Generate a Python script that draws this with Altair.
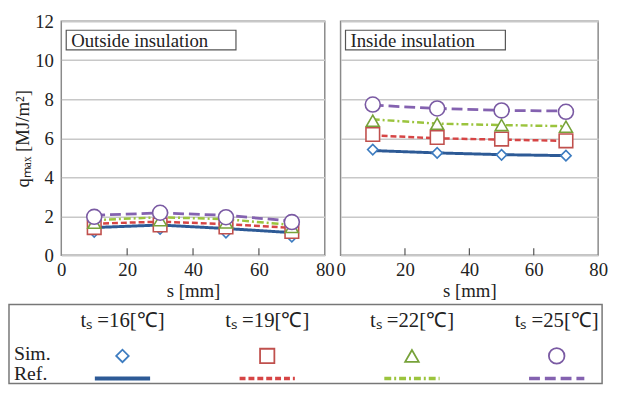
import altair as alt
import pandas as pd

# ---------------- data ----------------
series = ["16", "19", "22", "25"]
series_labels = ["tₛ =16[℃]", "tₛ =19[℃]", "tₛ =22[℃]", "tₛ =25[℃]"]
s_mm = [10, 30, 50, 70]

# Outside insulation
out_sim_16 = [1.20, 1.35, 1.16, 0.95]
out_sim_19 = [1.42, 1.55, 1.45, 1.22]
out_sim_22 = [1.67, 1.80, 1.68, 1.45]
out_sim_25 = [1.97, 2.18, 1.95, 1.70]
out_ref_16 = [1.42, 1.55, 1.37, 1.16]
out_ref_19 = [1.62, 1.72, 1.60, 1.40]
out_ref_22 = [1.80, 1.95, 1.85, 1.55]
out_ref_25 = [2.05, 2.17, 2.05, 1.75]

# Inside insulation
in_sim_16 = [5.42, 5.25, 5.15, 5.11]
in_sim_19 = [6.20, 6.04, 5.96, 5.87]
in_sim_22 = [6.90, 6.75, 6.68, 6.60]
in_sim_25 = [7.73, 7.53, 7.43, 7.36]
in_ref_16 = [5.37, 5.25, 5.16, 5.11]
in_ref_19 = [6.15, 6.00, 5.93, 5.87]
in_ref_22 = [6.97, 6.75, 6.68, 6.62]
in_ref_25 = [7.70, 7.53, 7.43, 7.40]

x_ticks = [0, 20, 40, 60, 80]
y_ticks = [0, 2, 4, 6, 8, 10, 12]

# ---------------- styles ----------------
FONT = "Liberation Serif"
FS = 19
line_colors = ["#2d5a96", "#d64545", "#9bc43d", "#8462b0"]
marker_colors = ["#3d7cc0", "#c0504d", "#77a23a", "#7a5aa3"]
shapes = ["diamond", "square", "triangle-up", "circle"]
marker_sizes = [110, 190, 170, 230]
legend_sizes = [160, 210, 190, 250]
dashes = [[1, 0], [6, 3], [7, 3, 2, 3], [11, 5]]
line_widths = [3, 2.5, 2.5, 2.8]

W1, W2, H = 267, 261, 237


def long_df(values_list):
    rows = []
    for s, vals in zip(series, values_list):
        for x, v in zip(s_mm, vals):
            rows.append({"series": s, "s": x, "q": v})
    return pd.DataFrame(rows)


def panel(sim_vals, ref_vals, title, first, width, box_w):
    sim = long_df(sim_vals)
    ref = long_df(ref_vals)
    xs = alt.Scale(domain=[0, 80], nice=False)
    ys = alt.Scale(domain=[0, 12], nice=False)
    x_axis = alt.Axis(values=x_ticks, title="s [mm]", grid=False, ticks=False,
                      domain=False, labelFlush=False, labelOverlap=False,
                      labelPadding=6, titlePadding=2, labelFont=FONT,
                      labelFontSize=FS, titleFont=FONT, titleFontSize=FS,
                      titleFontWeight="normal", labelColor="#222",
                      titleColor="#222")
    if first:
        y_axis = alt.Axis(values=y_ticks, title="qₘₐₓ [MJ/m²]", grid=True,
                          gridColor="#c8c8c8", gridWidth=1.5, ticks=False,
                          domain=False, labelPadding=8, titlePadding=2,
                          labelOverlap=False, labelFont=FONT,
                          labelFontSize=FS, titleFont=FONT,
                          titleFontSize=FS, titleFontWeight="normal",
                          labelColor="#222", titleColor="#222")
    else:
        y_axis = alt.Axis(values=y_ticks, title=None, grid=True,
                          gridColor="#c8c8c8", gridWidth=1.5, ticks=False,
                          domain=False, labels=False)

    X = alt.X("s:Q", scale=xs, axis=x_axis)
    Y = alt.Y("q:Q", scale=ys, axis=y_axis)

    grid_base = alt.Chart(pd.DataFrame({"s": x_ticks[1:-1]})).mark_rule(
        color="#555", strokeWidth=1.2
    ).encode(
        x=X,
        y=alt.datum(0, scale=ys, axis=y_axis, type="quantitative"),
        y2=alt.value(H - 7),
    )

    layers = [grid_base]
    for i, s in enumerate(series):
        layers.append(
            alt.Chart(ref[ref.series == s]).mark_line(
                color=line_colors[i], strokeDash=dashes[i],
                strokeWidth=line_widths[i]
            ).encode(x=X, y=Y)
        )
    for i, s in enumerate(series):
        layers.append(
            alt.Chart(sim[sim.series == s]).mark_point(
                shape=shapes[i], size=marker_sizes[i], filled=True,
                fill="white", stroke=marker_colors[i], strokeWidth=1.6,
                opacity=1
            ).encode(x=X, y=Y)
        )
    dummy = alt.Chart(pd.DataFrame({"t": [title]}))
    layers.append(
        dummy.mark_rect(fill="white", stroke="#555", strokeWidth=1.2).encode(
            x=alt.value(5), x2=alt.value(5 + box_w),
            y=alt.value(9), y2=alt.value(29))
    )
    layers.append(
        dummy.mark_text(font=FONT, fontSize=FS, align="left",
                        baseline="middle", color="#222").encode(
            x=alt.value(10), y=alt.value(20), text="t:N")
    )
    return alt.layer(*layers).properties(width=width, height=H)


left = panel([out_sim_16, out_sim_19, out_sim_22, out_sim_25],
             [out_ref_16, out_ref_19, out_ref_22, out_ref_25],
             "Outside insulation", True, W1, 172)
right = panel([in_sim_16, in_sim_19, in_sim_22, in_sim_25],
              [in_ref_16, in_ref_19, in_ref_22, in_ref_25],
              "Inside insulation", False, W2, 162)

# ---------------- legend panel ----------------
LH = 80
leg_df = pd.DataFrame({"series": series, "label": series_labels})
lx = alt.Scale(type="point", domain=series, range=[62, 502], padding=0)
leg_base = alt.Chart(leg_df)
leg_layers = [
    alt.Chart(pd.DataFrame({"a": [0]})).mark_rect(
        fill="white", stroke="#777", strokeWidth=1.5).encode(
        x=alt.value(-53), x2=alt.value(548), y=alt.value(0), y2=alt.value(LH)),
    leg_base.mark_text(font=FONT, fontSize=21, baseline="middle",
                       color="#222").encode(
        x=alt.X("series:N", scale=lx, axis=None), y=alt.value(17),
        text="label:N"),
    alt.Chart(pd.DataFrame({"t": ["Sim.", "Ref."], "row": [0, 1]})).mark_text(
        font=FONT, fontSize=20, align="left", baseline="middle",
        color="#222").encode(
        x=alt.value(-48),
        y=alt.Y("row:O", scale=alt.Scale(type="point", range=[50, 70],
                                         padding=0), axis=None),
        text="t:N"),
]
for i, s in enumerate(series):
    sub = leg_base.transform_filter(alt.datum.series == s)
    leg_layers.append(
        sub.mark_point(shape=shapes[i], size=legend_sizes[i], filled=True,
                       fill="white", stroke=marker_colors[i], strokeWidth=1.8,
                       opacity=1).encode(
            x=alt.X("series:N", scale=lx, axis=None), y=alt.value(52))
    )
    leg_layers.append(
        sub.mark_rule(color=line_colors[i], strokeDash=dashes[i],
                      strokeWidth=4 if i == 0 else 3.5,
                      xOffset=-28, x2Offset=28).encode(
            x=alt.X("series:N", scale=lx, axis=None), x2="series:N",
            y=alt.value(75))
    )
legend = alt.layer(*leg_layers).properties(
    width=540, height=LH, view=alt.ViewBackground(strokeOpacity=0))

chart = alt.vconcat(
    alt.hconcat(left, right, spacing=16, bounds="flush"),
    legend, spacing=2
).properties(
    padding={"left": 0, "top": 1, "right": 0, "bottom": 0}
).configure_view(stroke="#8a8a8a", strokeWidth=1.5).resolve_scale(
    x="independent")

chart.save("out.html", embed_options={"renderer": "svg", "actions": False})
